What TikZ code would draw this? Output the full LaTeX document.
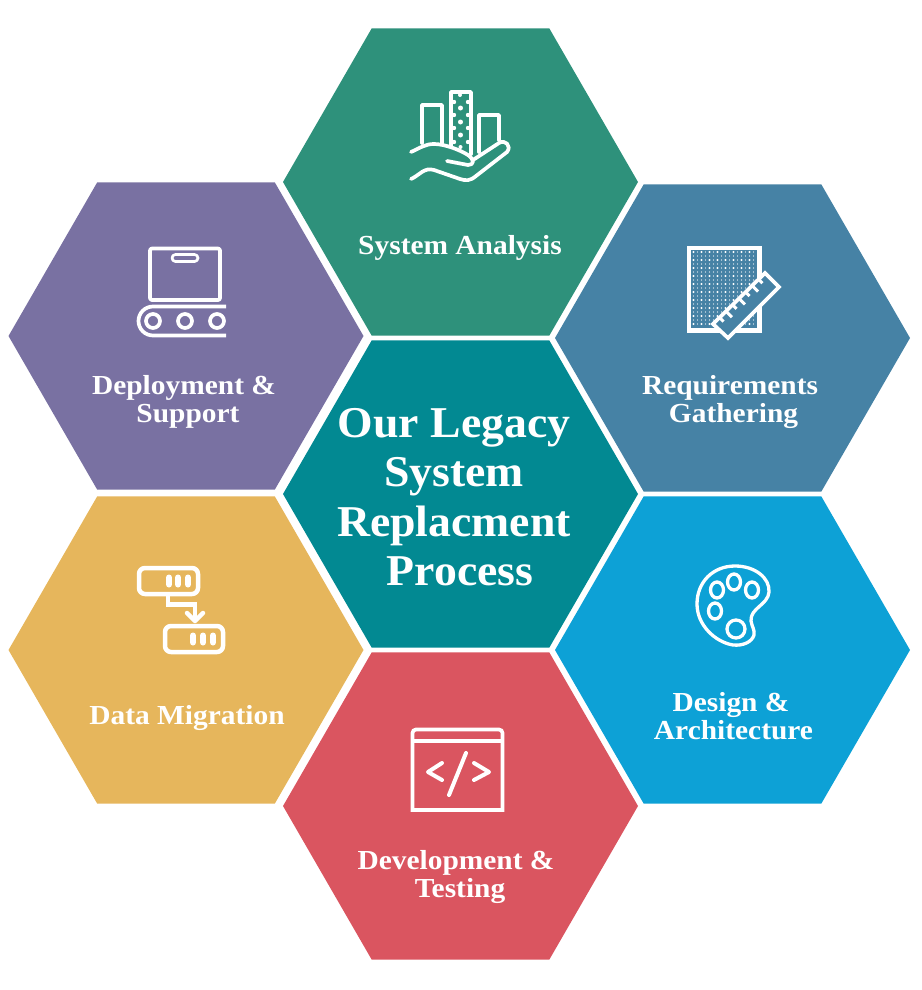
\documentclass[tikz,border=0pt]{standalone}
\usepackage{fontspec}
\setmainfont{Liberation Serif}
\newfontfamily\labelfont[FakeStretch=1.07, BoldFont={Liberation Serif Bold}]{Liberation Serif}
\newfontfamily\titlefont[FakeStretch=1.04, BoldFont={Liberation Serif Bold}]{Liberation Serif}
\usetikzlibrary{shapes.geometric}
\definecolor{hexgreen}{HTML}{2E917B}
\definecolor{hexsteel}{HTML}{4682A5}
\definecolor{hexpurple}{HTML}{7971A2}
\definecolor{hexyellow}{HTML}{E6B65C}
\definecolor{hexblue}{HTML}{0DA1D6}
\definecolor{hexred}{HTML}{DA5560}
\definecolor{hexteal}{HTML}{028992}
\tikzset{
	hexcell/.style={regular polygon, regular polygon sides=6, minimum size=355pt, inner sep=0pt, outer sep=0pt},
	hexlabel/.style={text=white, align=center, inner sep=0pt, font=\labelfont\fontsize{27.5}{28}\selectfont\bfseries},
	iconline/.style={draw=white, line width=3.7pt, line cap=round, line join=round},
}
\begin{document}
\begin{tikzpicture}[x=1pt, y=-1pt]
	\useasboundingbox (0, 0) rectangle (921, 990);
	
	%%%%% HEXAGONS %%%%%
	\node[hexcell, fill=hexgreen] (analysis) at (460.5, 182) {};
	\node[hexcell, fill=hexsteel] (gathering) at (732.5, 338) {};
	\node[hexcell, fill=hexblue] (design) at (732.5, 650) {};
	\node[hexcell, fill=hexred] (development) at (460.5, 806) {};
	\node[hexcell, fill=hexyellow] (migration) at (186, 650) {};
	\node[hexcell, fill=hexpurple] (deployment) at (186, 336) {};
	\node[hexcell, fill=hexteal] (legacy) at (460.5, 494) {};
	
	%%%%% LABELS %%%%%
	\node[hexlabel] (analysistext) at (460, 248) {System Analysis};
	\node[hexlabel] (gatheringtext) at (730, 402) {Requirements\\\hspace*{7pt}Gathering};
	\node[hexlabel] (designtext) at (731, 716) {Design \&\\\hspace*{5pt}Architecture};
	\node[hexlabel] (developmenttext) at (456, 877) {Development \&\\\hspace*{8pt}Testing};
	\node[hexlabel] (migrationtext) at (187, 718) {Data Migration};
	\node[hexlabel] (deploymenttext) at (184, 402) {Deployment \&\\\hspace*{8pt}Support};
	\node[hexlabel, font=\titlefont\fontsize{44}{49.5}\selectfont\bfseries] (legacytext) at (454, 497) {Our Legacy\\System\\Replacment\\\hspace*{12pt}Process};
	
	%%%%% ANALYSIS ICON %%%%%
	\draw[iconline] (422, 143) -- (422, 105) -- (442, 105) -- (442, 143);
	\draw[iconline] (451, 146) -- (451, 92) -- (471, 92) -- (471, 154);
	\draw[iconline] (479, 152) -- (479, 115) -- (499, 115) -- (499, 140);
	\foreach \y in {108, 122, 135}
		\fill[white] (460.5, \y) circle (2.5);
	\foreach \y in {102, 115, 128, 142}
		{\fill[white] (454, \y) circle (2.2);
		\fill[white] (468, \y) circle (2.2);}
	\fill[white] (460, 95) circle (2);
	\fill[white] (460.5, 147) circle (2);
	\draw[iconline] (411, 152) .. controls (420, 148) and (425, 144) .. (434, 144) .. controls (445, 144) and (460, 150) .. (468, 155) .. controls (475, 160) and (474, 165) .. (468, 165) -- (447, 161);
	\draw[iconline] (473, 160) -- (499, 143) .. controls (505, 139) and (512, 146) .. (507, 152) -- (476, 176) .. controls (470, 181) and (466, 181) .. (460, 179) -- (434, 170) .. controls (424, 167) and (420, 175) .. (411, 179);
	
	%%%%% REQUIREMENTS ICON %%%%%
	\foreach \x in {0,...,15}
		\foreach \y in {0,...,18}
			\fill[white] ({693.5+\x*4}, {252+\y*4}) circle (0.7);
	\foreach \x in {0,...,7}
		\foreach \y in {0,...,9}
			\fill[white] ({693.5+\x*8}, {252+\y*8}) circle (1.05);
	\draw[white, line width=4.5pt] (689, 248) rectangle (759.5, 330.5);
	\draw[iconline, fill=hexsteel, line join=miter] (713, 324) -- (765, 273) -- (779, 287) -- (728, 338) -- cycle;
	\foreach \t/\d in {1/4, 2/6, 3/4, 4/6, 5/4, 6/6, 7/4}
		\draw[white, line width=3pt] ({713+\t*6.5}, {324-\t*6.4}) -- ++(\d, \d);
	
	%%%%% DEPLOYMENT ICON %%%%%
	\draw[iconline, rounded corners=2pt] (150, 248.5) rectangle (220, 300);
	\draw[iconline, line width=2.7pt, rounded corners=3.5pt] (172, 254.5) rectangle (198, 261.5);
	\draw[iconline, line cap=butt] (226, 306.5) -- (153, 306.5) arc[start angle=270, end angle=90, radius=14.5] -- (226, 335.5);
	\foreach \x in {153, 185, 217}
		\draw[iconline] (\x, 321) circle (7);
	
	%%%%% MIGRATION ICON %%%%%
	\draw[iconline, line width=4.5pt, rounded corners=6pt] (139, 568) rectangle (198, 594);
	\draw[iconline, line width=4.5pt, rounded corners=6pt] (165, 626) rectangle (223, 652);
	\foreach \x in {169, 178, 188}
		\draw[white, line width=6pt, line cap=round] (\x, 577.5) -- (\x, 584.5);
	\foreach \x in {193, 203, 213}
		\draw[white, line width=6pt, line cap=round] (\x, 635.5) -- (\x, 642.5);
	\draw[iconline, line width=4.5pt, line cap=butt, line join=miter] (168, 595) -- (168, 604.5) -- (195, 604.5) -- (195, 620);
	\draw[iconline, line width=4.5pt] (187, 613) -- (195, 621) -- (203, 613);
	
	%%%%% DESIGN ICON %%%%%
	\draw[iconline, line width=3.3pt] (735, 566) .. controls (755, 566) and (770, 578) .. (769, 592) .. controls (768, 605) and (750, 608) .. (751, 621) .. controls (752, 627) and (755, 630) .. (754, 635) .. controls (752, 642) and (743, 646) .. (733, 645) .. controls (715, 642) and (697, 625) .. (697, 604) .. controls (697, 582) and (713, 566) .. (735, 566) -- cycle;
	\draw[iconline, line width=3.3pt] (734, 582) ellipse (6.5 and 8);
	\draw[iconline, line width=3.3pt] (717, 590) ellipse (6.5 and 8);
	\draw[iconline, line width=3.3pt] (752, 590) ellipse (6.5 and 8);
	\draw[iconline, line width=3.3pt] (715, 611) ellipse (6.5 and 8);
	\draw[iconline, line width=3.3pt] (736, 629) circle (9);
	
	%%%%% DEVELOPMENT ICON %%%%%
	\draw[iconline, line join=miter] (412.5, 810) -- (412.5, 733) arc[start angle=180, end angle=270, radius=3.5] -- (499, 729.5) arc[start angle=270, end angle=360, radius=3.5] -- (502.5, 810) -- cycle;
	\draw[iconline, line cap=butt] (412.5, 741) -- (502.5, 741);
	\draw[iconline, line width=4pt] (442, 763) -- (428, 772) -- (442, 780);
	\draw[iconline, line width=4pt] (474, 763) -- (489, 772) -- (474, 780);
	\draw[iconline, line width=4pt] (466, 753) -- (449, 795);
\end{tikzpicture}
\end{document}
